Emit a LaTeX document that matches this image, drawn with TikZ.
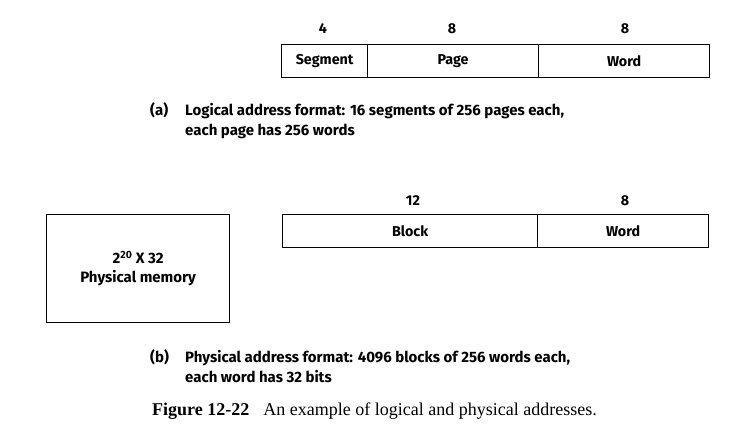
\documentclass[tikz,border=0pt]{standalone}
\usepackage{fontspec}
\setmainfont{Liberation Serif}
\newfontfamily\lblfont{Fira Sans}
\begin{document}
\begin{tikzpicture}[x=1pt,y=-1pt,
  fld/.style={draw,line width=1.2pt,minimum height=33pt,inner sep=0pt,anchor=north west,font=\lblfont\bfseries\fontsize{14.3}{16}\selectfont},
  bits/.style={font=\lblfont\bfseries\fontsize{14.3}{16}\selectfont},
  captext/.style={font=\lblfont\bfseries\fontsize{15}{20}\selectfont,anchor=north west,align=left,inner sep=0pt},
  mem/.style={draw,line width=1.2pt,minimum width=183pt,minimum height=108pt,inner sep=0pt,anchor=north west,align=center,font=\lblfont\bfseries\fontsize{15}{19}\selectfont}]
\useasboundingbox (0,0) rectangle (742,435);
% (a) logical address
\node[fld,minimum width=86pt] (seg) at (281,44) {Segment};
\node[fld,minimum width=171pt] (page) at (367,44) {Page};
\node[fld,minimum width=171pt] (word) at (538,44) {Word};
\node[bits] (b4) at (323,29) {4};
\node[bits] (b8a) at (452,29) {8};
\node[bits] (b8b) at (625,29) {8};
\node[captext] (capa) at (150,102) {\makebox[35pt][l]{(a)}Logical address format: 16 segments of 256 pages each,\\\hspace*{35pt}each page has 256 words};
% (b) physical address
\node[mem] (pm) at (46,214) {2\textsuperscript{20} X 32\\Physical memory};
\node[fld,minimum width=255pt] (blk) at (282,214) {Block};
\node[fld,minimum width=171pt] (wd) at (537,214) {Word};
\node[bits] (b12) at (413,201) {12};
\node[bits] (b8c) at (625,201) {8};
\node[captext] (capb) at (150,349) {\makebox[35pt][l]{(b)}Physical address format: 4096 blocks of 256 words each,\\\hspace*{35pt}each word has 32 bits};
\node[anchor=north west,inner sep=0pt,font=\fontsize{18}{21}\selectfont] (fig) at (152,403) {\textbf{Figure 12-22}\hspace{14pt}An example of logical and physical addresses.};
\end{tikzpicture}
\end{document}
